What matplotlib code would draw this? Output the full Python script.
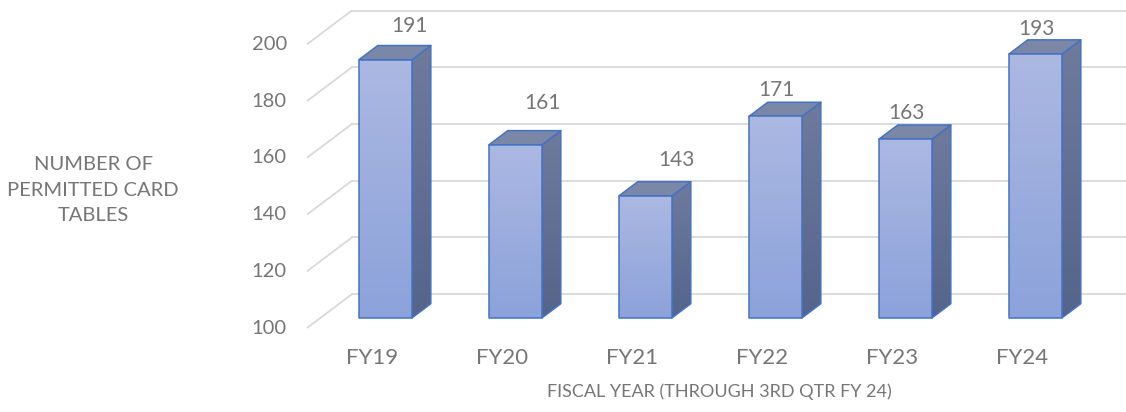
"""Permitted card tables by fiscal year - Excel-style 3D column chart."""
import matplotlib
matplotlib.use("Agg")
import matplotlib.pyplot as plt
import numpy as np
from matplotlib.colors import LinearSegmentedColormap
from matplotlib.patches import Polygon

YEARS = ["FY19", "FY20", "FY21", "FY22", "FY23", "FY24"]
TABLES = [191, 161, 143, 171, 163, 193]
Y_TICKS = [100, 120, 140, 160, 180, 200]
Y_LABEL = "NUMBER OF\nPERMITTED CARD\nTABLES"
X_LABEL = "FISCAL YEAR (THROUGH 3RD QTR FY 24)"

# data-label placement (Excel nudges them around in 3D)
LBL_DX = [0.29, 0.315, 0.345, 0.108, 0.108, 0.108]
LBL_LIFT = [15.5, 18.3, 16.2, 12.9, 12.8, 12.4]

TXT = "#767676"
GRID = "#d9d9d9"
EDGE = "#4472c4"
FRONT = ("#abb8e2", "#8ca2da")   # top, bottom
SIDE = ("#6e7b9d", "#55648a")
TOP = "#7b87a7"

DX, DV = 0.345, 11.9          # depth offset of the back wall (cat units, value units)
D0, D1 = 0.30, 0.72           # bar front / back depth
HALF = 0.204                  # half bar width
BASE = 100

plt.rcParams["font.family"] = ["Lato", "DejaVu Sans"]

fig = plt.figure(figsize=(11.26, 4.12), dpi=100)
ax = fig.add_axes([0, 0, 1, 1])
ax.set_axis_off()


def grad_face(verts, c_top, c_bot, z=3):
    poly = Polygon(verts, closed=True, facecolor="none", edgecolor=EDGE, lw=1.1,
                   joinstyle="round", zorder=z + 0.5)
    ax.add_patch(poly)
    xs, ys = zip(*verts)
    cmap = LinearSegmentedColormap.from_list("g", [c_bot, c_top])
    im = ax.imshow(np.linspace(0, 1, 128)[:, None], extent=(min(xs), max(xs), min(ys), max(ys)),
                   origin="lower", cmap=cmap, aspect="auto", interpolation="bilinear", zorder=z)
    im.set_clip_path(poly)


# gridlines: left wall diagonal + back wall horizontal
x_left = -0.5
for v in Y_TICKS:
    ax.plot([x_left, x_left + DX], [v, v + DV], color=GRID, lw=1.3, zorder=1,
            solid_capstyle="butt")
    ax.plot([x_left + DX, 7], [v + DV, v + DV], color=GRID, lw=1.3, zorder=1)
    ax.text(x_left - 0.155, v, f"{v}", ha="right", va="center", fontsize=14.5, color=TXT)

for i, (yr, v) in enumerate(zip(YEARS, TABLES)):
    fl = i - HALF + D0 * DX
    fr = i + HALF + D0 * DX
    fb = BASE + D0 * DV
    ft = v + D0 * DV
    ox, oy = (D1 - D0) * DX, (D1 - D0) * DV
    grad_face([(fr, fb), (fr + ox, fb + oy), (fr + ox, ft + oy), (fr, ft)], *SIDE)
    top = Polygon([(fl, ft), (fr, ft), (fr + ox, ft + oy), (fl + ox, ft + oy)], closed=True,
                  facecolor=TOP, edgecolor=EDGE, lw=1.1, joinstyle="round", zorder=3.5)
    ax.add_patch(top)
    grad_face([(fl, fb), (fr, fb), (fr, ft), (fl, ft)], *FRONT, z=4)
    ax.text(i + LBL_DX[i], v + LBL_LIFT[i], f"{v}", ha="center", va="center",
            fontsize=15, color=TXT)
    ax.text(i, 89.4, yr, ha="center", va="center", fontsize=16, color=TXT)

ax.text(2.67, 77.4, X_LABEL, ha="center", va="center", fontsize=13, color=TXT)
ax.text(-2.145, 148.6, Y_LABEL, ha="center", va="center", fontsize=14.5, color=TXT,
        linespacing=1.6)

ax.set_xlim(-0.5 - 307 / 130, -0.5 + 819 / 130)
ax.set_ylim(BASE - 84 / 2.837, BASE + 328 / 2.837)

fig.savefig("out.png", dpi=100)
